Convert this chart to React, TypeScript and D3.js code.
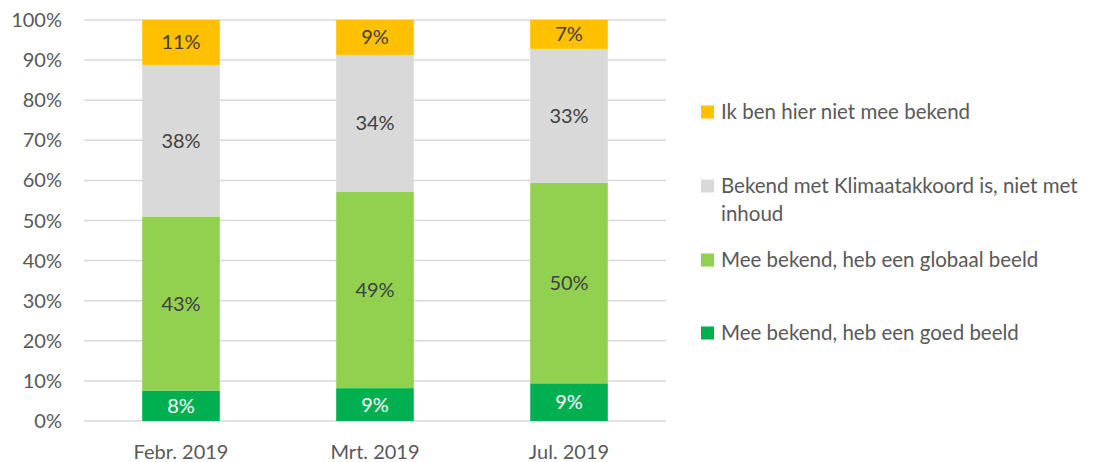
import { useEffect, useRef } from "react";
import * as d3 from "d3";

const categories = ["Febr. 2019", "Mrt. 2019", "Jul. 2019"];
const seriesNames = [
  "Mee bekend, heb een goed beeld",
  "Mee bekend, heb een globaal beeld",
  "Bekend met Klimaatakkoord is, niet met inhoud",
  "Ik ben hier niet mee bekend",
];
const goedBeeld = [7.6, 8.2, 9.4];
const globaalBeeld = [43.4, 48.9, 50.0];
const nietInhoud = [37.8, 34.2, 33.4];
const nietBekend = [11.2, 8.7, 7.2];
const labelGoed = ["8%", "9%", "9%"];
const labelGlobaal = ["43%", "49%", "50%"];
const labelInhoud = ["38%", "34%", "33%"];
const labelNiet = ["11%", "9%", "7%"];
const yTicks = [0, 10, 20, 30, 40, 50, 60, 70, 80, 90, 100];

const colors = ["#00B050", "#92D050", "#D9D9D9", "#FFC000"];
const font = "Lato, 'Open Sans', sans-serif";

export default function App() {
  const svgRef = useRef<SVGSVGElement | null>(null);

  useEffect(() => {
    if (!svgRef.current) return;
    const svg = d3.select(svgRef.current);
    svg.selectAll("*").remove();

    const values = [goedBeeld, globaalBeeld, nietInhoud, nietBekend];
    const labels = [labelGoed, labelGlobaal, labelInhoud, labelNiet];

    const x = d3.scaleBand().domain(categories).range([84, 666]).paddingInner(0.6).paddingOuter(0.3);
    const y = d3.scaleLinear().domain([0, 100]).range([421, 20]);

    // gridlines
    svg
      .append("g")
      .selectAll("line")
      .data(yTicks)
      .enter()
      .append("line")
      .attr("x1", 84)
      .attr("x2", 666)
      .attr("y1", (d) => y(d))
      .attr("y2", (d) => y(d))
      .attr("stroke", "#D9D9D9")
      .attr("stroke-width", 1.5);

    // y tick labels
    svg
      .append("g")
      .selectAll("text")
      .data(yTicks)
      .enter()
      .append("text")
      .attr("x", 62)
      .attr("y", (d) => y(d))
      .attr("dy", "0.35em")
      .attr("text-anchor", "end")
      .attr("font-family", font)
      .attr("font-size", 20)
      .attr("fill", "#595959")
      .text((d) => `${d}%`);

    // x labels
    svg
      .append("g")
      .selectAll("text")
      .data(categories)
      .enter()
      .append("text")
      .attr("x", (d) => (x(d) || 0) + x.bandwidth() / 2)
      .attr("y", 452)
      .attr("dy", "0.35em")
      .attr("text-anchor", "middle")
      .attr("font-family", font)
      .attr("font-size", 20)
      .attr("fill", "#595959")
      .text((d) => d);

    // stacked bars
    values.forEach((series, si) => {
      const g = svg.append("g");
      categories.forEach((cat, ci) => {
        const base = d3.sum(values.slice(0, si), (s) => s[ci]);
        const top = base + series[ci];
        const x0 = x(cat) || 0;
        g.append("rect")
          .attr("x", x0)
          .attr("y", y(top))
          .attr("width", x.bandwidth())
          .attr("height", y(base) - y(top))
          .attr("fill", colors[si]);
        g.append("text")
          .attr("x", x0 + x.bandwidth() / 2)
          .attr("y", (y(base) + y(top)) / 2)
          .attr("dy", "0.35em")
          .attr("text-anchor", "middle")
          .attr("font-family", font)
          .attr("font-size", 20)
          .attr("fill", si === 0 ? "#FFFFFF" : "#404040")
          .text(labels[si][ci]);
      });
    });

    // legend
    const legendY = [333, 260, 186, 112];
    const legend = svg.append("g");
    seriesNames.forEach((name, i) => {
      legend
        .append("rect")
        .attr("x", 701)
        .attr("y", legendY[i] - 6.5)
        .attr("width", 13)
        .attr("height", 13)
        .attr("fill", colors[i]);
      const lines = i === 2 ? ["Bekend met Klimaatakkoord is, niet met", "inhoud"] : [name];
      lines.forEach((ln, li) => {
        legend
          .append("text")
          .attr("x", 721)
          .attr("y", legendY[i] + li * 28)
          .attr("dy", "0.35em")
          .attr("font-family", font)
          .attr("font-size", 20.5)
          .attr("fill", "#595959")
          .text(ln);
      });
    });
  }, []);

  return (
    <svg
      ref={svgRef}
      width={1115}
      height={462}
      style={{ position: "absolute", left: 0, top: 0, background: "#fff" }}
    />
  );
}
